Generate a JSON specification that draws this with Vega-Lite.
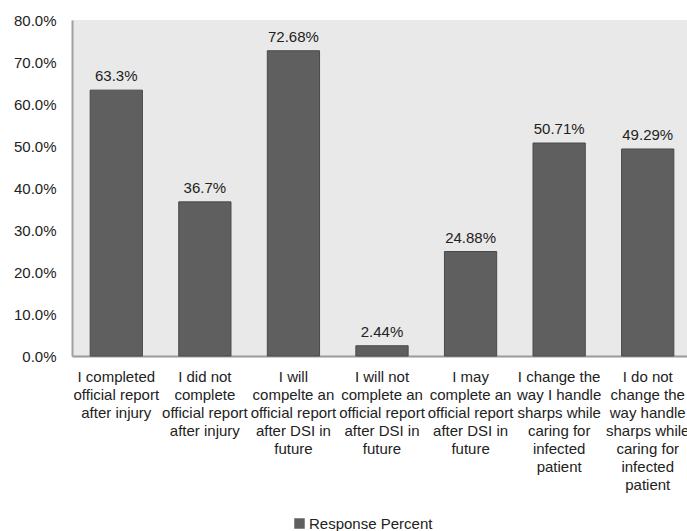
{
  "$schema": "https://vega.github.io/schema/vega-lite/v6.json",
  "width": 615,
  "height": 336,
  "autosize": {"type": "none"},
  "padding": {"left": 72, "top": 20, "right": 0, "bottom": 175},
  "background": "#ffffff",
  "data": {
    "values": [
      {"item": "I completed\nofficial report\nafter injury", "value": 63.3, "label": "63.3%", "series": "Response Percent"},
      {"item": "I did not\ncomplete\nofficial report\nafter injury", "value": 36.7, "label": "36.7%", "series": "Response Percent"},
      {"item": "I will\ncompelte an\nofficial report\nafter DSI in\nfuture", "value": 72.68, "label": "72.68%", "series": "Response Percent"},
      {"item": "I will not\ncomplete an\nofficial report\nafter DSI in\nfuture", "value": 2.44, "label": "2.44%", "series": "Response Percent"},
      {"item": "I may\ncomplete an\nofficial report\nafter DSI in\nfuture", "value": 24.88, "label": "24.88%", "series": "Response Percent"},
      {"item": "I change the\nway I handle\nsharps while\ncaring for\ninfected\npatient", "value": 50.71, "label": "50.71%", "series": "Response Percent"},
      {"item": "I do not\nchange the\nway handle\nsharps while\ncaring for\ninfected\npatient", "value": 49.29, "label": "49.29%", "series": "Response Percent"}
    ]
  },
  "encoding": {
    "x": {
      "field": "item",
      "type": "nominal",
      "sort": null,
      "scale": {"range": [0, 620], "paddingInner": 0.41, "paddingOuter": 0.205},
      "axis": {
        "title": null,
        "labelAngle": 0,
        "labelExpr": "split(datum.value, '\\n')",
        "labelLineHeight": 18,
        "labelFont": "Liberation Sans",
        "labelFontSize": 15,
        "labelColor": "#222222",
        "labelPadding": 13,
        "labelLimit": 0,
        "labelOverlap": false,
        "labelBound": false,
        "ticks": false,
        "domainColor": "#9a9a9a",
        "domainWidth": 2
      }
    },
    "y": {
      "field": "value",
      "type": "quantitative",
      "scale": {"domain": [0, 80], "nice": false},
      "axis": {
        "title": null,
        "values": [0, 10, 20, 30, 40, 50, 60, 70, 80],
        "labelExpr": "format(datum.value, '.1f') + '%'",
        "labelFont": "Liberation Sans",
        "labelFontSize": 15,
        "labelColor": "#222222",
        "labelPadding": 16,
        "ticks": false,
        "grid": false,
        "domainColor": "#a0a0a0",
        "domainWidth": 2
      }
    }
  },
  "layer": [
    {
      "mark": {"type": "bar", "stroke": "#4a4a4a", "strokeWidth": 1},
      "encoding": {
        "color": {
          "field": "series",
          "type": "nominal",
          "scale": {"range": ["#5f5f5f"]},
          "legend": {
            "title": null,
            "orient": "none",
            "legendX": 220,
            "legendY": 496,
            "padding": 0,
            "symbolType": "square",
            "symbolSize": 110,
            "symbolStrokeWidth": 0,
            "symbolOpacity": 1,
            "labelFont": "Liberation Sans",
            "labelFontSize": 15,
            "labelColor": "#222222",
            "labelOffset": 2
          }
        }
      }
    },
    {
      "mark": {"type": "text", "baseline": "alphabetic", "dy": -9, "font": "Liberation Sans", "fontSize": 15, "color": "#222222"},
      "encoding": {"text": {"field": "label"}}
    }
  ],
  "config": {
    "view": {"fill": "#e9e9e9", "stroke": null}
  }
}
